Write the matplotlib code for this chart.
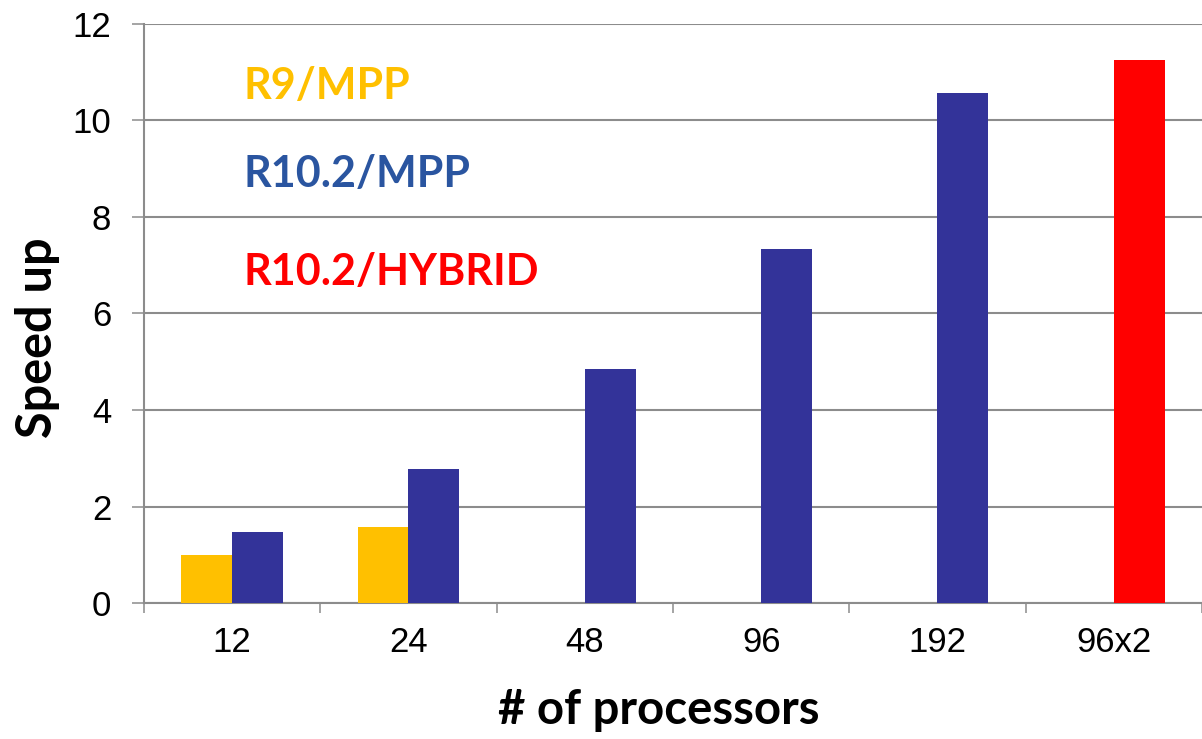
import numpy as np
import matplotlib.pyplot as plt

# data
processors = ['12', '24', '48', '96', '192', '96x2']
r9_mpp = [1.0, 1.58, 0, 0, 0, 0]
r10_speedup = [1.47, 2.79, 4.85, 7.33, 10.56, 11.25]
r10_colors = ['#333399'] * 5 + ['#FF0000']

legend_labels = ['R9/MPP', 'R10.2/MPP', 'R10.2/HYBRID']
legend_colors = ['#FFC000', '#2A55A0', '#FF0000']

grid_col = '#8c8c8c'

fig = plt.figure(figsize=(12.02, 7.39), dpi=100)
ax = fig.add_axes([0.1198, 0.1836, 0.8802, 0.7846])

x = np.arange(len(processors))
w = 0.288
ax.bar(x - w / 2, r9_mpp, width=w, color='#FFC000', zorder=3)
ax.bar(x + w / 2, r10_speedup, width=w, color=r10_colors, zorder=3)

ax.set_xlim(-0.5, 5.47)
ax.set_ylim(0, 12)
ax.set_yticks(np.arange(0, 13, 2))
ax.yaxis.grid(True, color=grid_col, lw=1.5, zorder=0)

ax.set_xticks(x)
ax.set_xticklabels(processors, fontsize=25, family='Liberation Sans')
ax.set_xticks(np.arange(-0.5, 5.6, 1), minor=True)
ax.tick_params(axis='x', which='major', length=0, pad=16)
ax.tick_params(axis='x', which='minor', length=7.2, width=1.1, color=grid_col)
ax.tick_params(axis='y', length=8.6, width=1.1, color=grid_col, pad=15,
               labelsize=25)
for lbl in ax.get_yticklabels():
    lbl.set_family('Liberation Sans')

for s in ['top', 'right']:
    ax.spines[s].set_visible(False)
for s in ['left', 'bottom']:
    ax.spines[s].set_color(grid_col)
    ax.spines[s].set_linewidth(1.5)

# axis titles
fig.text(52 / 1202, 1 - 337.5 / 739, 'Speed up', rotation=90, rotation_mode='anchor',
         ha='center', va='baseline', fontsize=35, fontweight='bold', family='Lato')
fig.text(659 / 1202, 1 - 724 / 739, '# of processors', ha='center', va='baseline',
         fontsize=34, fontweight='bold', family='Lato')

# coloured text used as legend
baselines = [0.8698, 0.718, 0.549]
for lab, col, yb in zip(legend_labels, legend_colors, baselines):
    ax.text(0.0936, yb, lab, color=col, fontsize=31, fontweight='bold',
            family='Lato', transform=ax.transAxes, va='baseline', ha='left')

fig.savefig('out.png', dpi=100)
